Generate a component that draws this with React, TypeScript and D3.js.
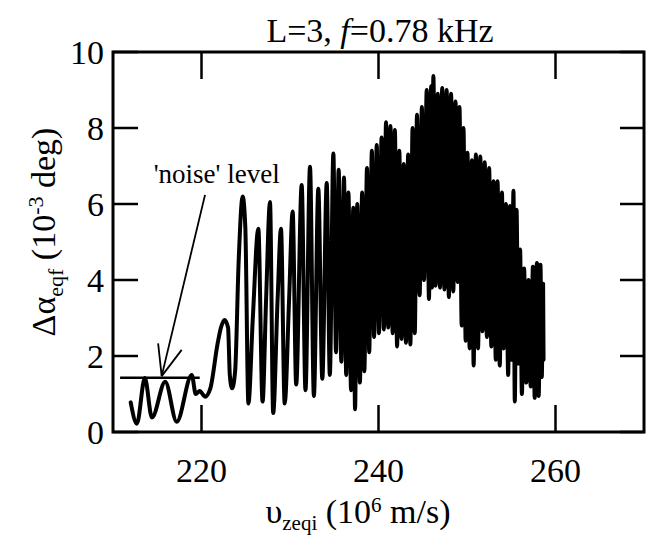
import React from "react";
import * as d3 from "d3";

// ---- data ----
const xTicks = [220, 240, 260];
const yTicks = [0, 2, 4, 6, 8, 10];

// sparse oscillation section (noise + first resolved oscillations)
const earlyV = [212.0, 212.7, 213.6, 214.4, 215.9, 217.2, 218.9, 219.35, 219.8, 220.4, 221.0, 221.8, 222.2, 222.6, 223.0, 223.2, 223.45, 223.8, 224.2, 224.65, 224.95, 225.3, 225.8, 226.42, 226.9, 227.3, 227.74, 228.1, 228.6, 228.98, 229.4, 229.9, 230.3, 230.7, 231.32, 231.75, 232.26, 232.7, 233.2, 233.65, 234.15, 234.5, 234.9];
const earlyA = [0.78, 0.22, 1.42, 0.38, 1.32, 0.27, 1.5, 1.0, 1.08, 0.93, 1.15, 2.3, 2.75, 2.95, 2.75, 1.5, 1.15, 1.6, 4.5, 6.2, 5.4, 0.75, 3.0, 5.35, 0.8, 3.5, 6.05, 0.5, 3.5, 5.35, 0.75, 3.5, 5.8, 1.25, 6.5, 1.1, 6.98, 0.95, 6.4, 1.4, 6.55, 1.5, 7.33];

// dense oscillation section (alternating peaks / troughs)
const burstV = [235.2, 235.5, 235.8, 236.1, 236.35, 236.6, 236.9, 237.15, 237.35, 237.6, 237.9, 238.15, 238.4, 238.7, 238.95, 239.25, 239.5, 239.8, 240.05, 240.35, 240.6, 240.85, 241.1, 241.35, 241.6, 241.85, 242.1, 242.35, 242.6, 242.85, 243.1, 243.35, 243.6, 243.85, 244.1, 244.35, 244.65, 244.9, 245.15, 245.45, 245.7, 245.95, 246.05, 246.2, 246.45, 246.7, 246.95, 247.2, 247.45, 247.7, 247.95, 248.2, 248.45, 248.7, 248.95, 249.15, 249.4, 249.6, 249.85, 250.05, 250.3, 250.55, 250.75, 251.0, 251.25, 251.5, 251.75, 252.0, 252.25, 252.5, 252.75, 253.0, 253.25, 253.45, 253.7, 253.95, 254.15, 254.4, 254.65, 254.85, 255.05, 255.25, 255.4, 255.6, 255.8, 256.0, 256.2, 256.45, 256.7, 256.95, 257.2, 257.45, 257.65, 257.9, 258.1, 258.3, 258.45, 258.6, 258.65];
const burstA = [2.1, 6.9, 1.85, 6.7, 1.5, 6.3, 1.1, 5.9, 0.6, 6.0, 1.3, 6.3, 1.6, 6.95, 2.1, 7.4, 2.5, 7.55, 2.6, 7.75, 2.7, 8.15, 2.75, 8.05, 2.6, 7.95, 2.25, 7.4, 2.45, 7.05, 2.35, 7.3, 2.3, 8.0, 2.6, 8.35, 3.6, 8.55, 4.0, 9.0, 3.5, 9.1, 3.8, 9.37, 3.85, 8.9, 3.8, 9.05, 3.75, 9.0, 3.55, 8.9, 3.7, 8.7, 3.95, 8.55, 2.8, 8.0, 2.4, 7.35, 2.2, 7.15, 1.75, 7.3, 2.2, 7.25, 2.65, 7.1, 2.5, 6.95, 2.25, 6.6, 1.9, 6.6, 1.75, 6.3, 2.2, 6.0, 1.5, 5.95, 1.9, 6.35, 0.8, 5.85, 1.8, 4.8, 1.0, 4.3, 1.3, 4.0, 1.2, 4.35, 0.9, 4.45, 0.95, 4.4, 1.45, 3.9, 1.9];

// annotation (data coordinates)
const noiseLevel = 1.43;
const noiseSpan = [210.8, 219.8];
const arrowFrom = [220.4, 6.24];
const arrowTip = [215.5, 1.47];
const arrowBarbs = [[215.1, 2.33], [217.76, 2.16]];
const noteAt = [214.6, 6.55];

export default function App() {
  const W = 648, H = 537;
  const left = 113, right = 644, top = 52, bottom = 432;
  const x = d3.scaleLinear().domain([210, 270]).range([left, right]);
  const y = d3.scaleLinear().domain([0, 10]).range([bottom, top]);

  const pts: [number, number][] = [
    ...earlyV.map((v, i) => [v, earlyA[i]] as [number, number]),
    ...burstV.map((v, i) => [v, burstA[i]] as [number, number]),
  ];
  const line = d3
    .line<[number, number]>()
    .x((d) => x(d[0]))
    .y((d) => y(d[1]))
    .curve(d3.curveMonotoneX);

  const font = "'Liberation Serif', 'Times New Roman', serif";
  const fs = 34;

  return (
    <svg width={W} height={H} style={{ position: "absolute", left: 0, top: 0, background: "#fff" }}>
      <rect x={0} y={0} width={W} height={H} fill="#fff" />
      {/* data */}
      <path d={line(pts) || ""} fill="none" stroke="#000" strokeWidth={4} strokeLinejoin="round" strokeLinecap="round" />

      {/* frame */}
      <rect x={left} y={top} width={right - left} height={bottom - top} fill="none" stroke="#000" strokeWidth={3} />

      {/* ticks */}
      {xTicks.map((t) => (
        <g key={"xt" + t}>
          <line x1={x(t)} x2={x(t)} y1={bottom} y2={bottom - 27} stroke="#000" strokeWidth={2.5} />
          <line x1={x(t)} x2={x(t)} y1={top} y2={top + 27} stroke="#000" strokeWidth={2.5} />
          <text x={x(t)} y={482} textAnchor="middle" fontFamily={font} fontSize={fs}>{t}</text>
        </g>
      ))}
      {yTicks.map((t) => (
        <g key={"yt" + t}>
          <line x1={left} x2={left + 25} y1={y(t)} y2={y(t)} stroke="#000" strokeWidth={2.5} />
          <line x1={right} x2={right - 24} y1={y(t)} y2={y(t)} stroke="#000" strokeWidth={2.5} />
          <text x={104} y={y(t)} dy="0.35em" textAnchor="end" fontFamily={font} fontSize={fs}>{t}</text>
        </g>
      ))}

      {/* noise level annotation */}
      <line x1={x(noiseSpan[0])} x2={x(noiseSpan[1])} y1={y(noiseLevel)} y2={y(noiseLevel)} stroke="#000" strokeWidth={2.5} />
      <line x1={x(arrowFrom[0])} y1={y(arrowFrom[1])} x2={x(arrowTip[0])} y2={y(arrowTip[1])} stroke="#000" strokeWidth={1.8} />
      {arrowBarbs.map((b, i) => (
        <line key={"b" + i} x1={x(arrowTip[0])} y1={y(arrowTip[1])} x2={x(b[0])} y2={y(b[1])} stroke="#000" strokeWidth={1.8} />
      ))}
      <text x={x(noteAt[0])} y={y(noteAt[1])} fontFamily={font} fontSize={27}>'noise' level</text>

      {/* title */}
      <text x={380} y={42} textAnchor="middle" fontFamily={font} fontSize={fs}>
        L=3, <tspan fontStyle="italic">f</tspan>=0.78 kHz
      </text>

      {/* x axis title */}
      <text x={358} y={523} textAnchor="middle" fontFamily={font} fontSize={fs}>
        υ<tspan fontSize={21} dy={7}>zeqi</tspan>
        <tspan dy={-7}> (10</tspan>
        <tspan fontSize={21} dy={-11}>6</tspan>
        <tspan dy={11}> m/s)</tspan>
      </text>

      {/* y axis title */}
      <text transform="translate(55,232) rotate(-90)" textAnchor="middle" fontFamily={font} fontSize={fs}>
        Δα<tspan fontSize={22} dy={8}>eqf</tspan>
        <tspan dy={-8}> (10</tspan>
        <tspan fontSize={22} dy={-12}>-3</tspan>
        <tspan dy={12}> deg)</tspan>
      </text>
    </svg>
  );
}
